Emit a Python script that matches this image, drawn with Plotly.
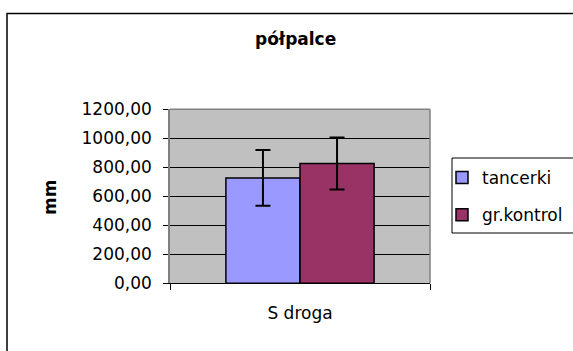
import plotly.graph_objects as go

W, H = 573, 351
categories = ["S droga"]
series_names = ["tancerki", "gr.kontrol"]
values_tancerki = [727]
values_kontrol = [826]
err_tancerki = [193]
err_kontrol = [179]
colors = ["#9999FF", "#993366"]
tick_vals = [0, 200, 400, 600, 800, 1000, 1200]
tick_text = ["0,00", "200,00", "400,00", "600,00", "800,00", "1000,00", "1200,00"]

FONT = "DejaVu Sans, Liberation Sans, Arial, sans-serif"
FS = 17

def px_x(x):
    return x / W

def px_y(y):
    return 1 - y / H

fig = go.Figure()
for name, vals, errs, col, grp in [
    (series_names[0], values_tancerki, err_tancerki, colors[0], "a"),
    (series_names[1], values_kontrol, err_kontrol, colors[1], "b"),
]:
    fig.add_trace(go.Bar(
        x=categories, y=vals, name=name, legendgroup=grp,
        marker=dict(color=col, line=dict(color="black", width=1.5)),
        error_y=dict(type="data", array=errs, visible=True, color="black", thickness=2, width=7.5),
    ))

fig.update_layout(
    width=W, height=H,
    autosize=False,
    margin=dict(l=0, r=0, t=0, b=0, pad=0, autoexpand=False),
    paper_bgcolor="white",
    plot_bgcolor="#C0C0C0",
    barmode="group",
    bargap=0.43,
    bargroupgap=0,
    font=dict(family=FONT, size=FS, color="black"),
    showlegend=True,
    legend=dict(
        x=px_x(442), y=px_y(160), xanchor="left", yanchor="top",
        borderwidth=0, bgcolor="rgba(0,0,0,0)",
        tracegroupgap=12, font=dict(size=FS, family=FONT),
        itemwidth=30,
    ),
    xaxis=dict(
        domain=[px_x(170), px_x(430)],
        automargin=False,
        showline=True, linecolor="black", linewidth=1,
        ticks="outside", tickson="boundaries", ticklen=6, tickcolor="black",
        ticklabelstandoff=14,
        showgrid=False, zeroline=False,
        tickfont=dict(size=FS, family=FONT),
    ),
    yaxis=dict(
        domain=[px_y(283.3), px_y(109.3)],
        automargin=False,
        range=[0, 1200],
        tickvals=tick_vals, ticktext=tick_text,
        showline=True, linecolor="#808080", linewidth=1.5,
        ticks="outside", ticklen=5, tickcolor="black",
        ticklabelstandoff=8,
        showgrid=True, gridcolor="black", gridwidth=1,
        zeroline=False,
        tickfont=dict(size=FS, family=FONT),
    ),
    annotations=[
        dict(text="<b>półpalce</b>", x=px_x(295), y=px_y(39), xref="paper", yref="paper",
             showarrow=False, xanchor="center", yanchor="middle", font=dict(size=FS, family=FONT)),
        dict(text="<b>mm</b>", x=px_x(50), y=px_y(198), xref="paper", yref="paper",
             showarrow=False, xanchor="center", yanchor="middle", textangle=-90,
             font=dict(size=FS, family=FONT)),
    ],
    shapes=[
        dict(type="rect", xref="paper", yref="paper",
             x0=px_x(7), x1=px_x(580), y0=px_y(360), y1=px_y(13.5),
             line=dict(color="black", width=1.5), fillcolor="rgba(0,0,0,0)"),
        dict(type="rect", xref="paper", yref="paper",
             x0=px_x(452), x1=px_x(580), y0=px_y(233), y1=px_y(158),
             line=dict(color="black", width=1), fillcolor="white", layer="below"),
        dict(type="line", xref="paper", yref="paper",
             x0=px_x(170), x1=px_x(430), y0=px_y(109.3), y1=px_y(109.3),
             line=dict(color="#808080", width=1.5)),
        dict(type="line", xref="paper", yref="paper",
             x0=px_x(430), x1=px_x(430), y0=px_y(109.3), y1=px_y(283.3),
             line=dict(color="#808080", width=1.5)),
    ],
)

fig.write_html(
    "out.html",
    config={"displayModeBar": False},
    post_script="document.body.style.margin='0';document.body.style.padding='0';document.documentElement.style.overflow='hidden';",
)
